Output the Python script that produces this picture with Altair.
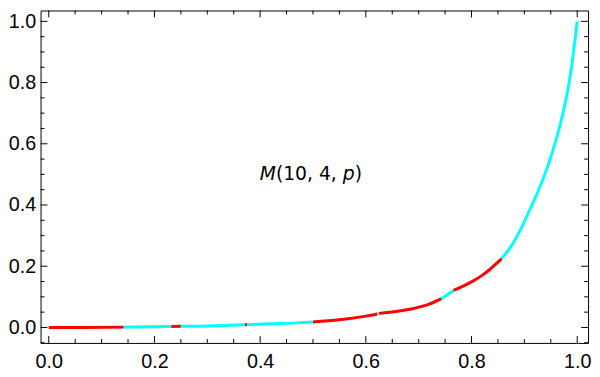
import altair as alt
import pandas as pd

# Curve samples
p_vals = [0, 0.07, 0.142, 0.19, 0.232, 0.25, 0.3, 0.34, 0.371, 0.375, 0.42, 0.469, 0.5,
          0.55, 0.6, 0.622, 0.625, 0.66, 0.69, 0.72, 0.743, 0.766, 0.8, 0.824, 0.857,
          0.876, 0.896, 0.91, 0.927, 0.952, 0.971, 0.986, 0.993, 1.0]
m_vals = [0, 0, 0.001, 0.002, 0.003, 0.004, 0.005, 0.007, 0.009, 0.009, 0.012, 0.015, 0.018,
          0.025, 0.037, 0.044, 0.046, 0.053, 0.062, 0.076, 0.094, 0.121, 0.149, 0.175, 0.225,
          0.268, 0.331, 0.384, 0.449, 0.567, 0.685, 0.814, 0.9, 1.0]

# Colour segments
bounds = [0, 0.142, 0.232, 0.25, 0.371, 0.375, 0.5, 0.622, 0.625, 0.743, 0.766, 0.857, 1.0]
seg_colors = ["#FF0000", "#00FFFF"] * 6

# Ticks
x_major = [0.0, 0.2, 0.4, 0.6, 0.8, 1.0]
x_minor = [0.05, 0.1, 0.15, 0.25, 0.3, 0.35, 0.45, 0.5, 0.55, 0.65, 0.7, 0.75, 0.85, 0.9, 0.95]
y_major = [0.0, 0.2, 0.4, 0.6, 0.8, 1.0]
y_minor = [-0.05, 0.05, 0.1, 0.15, 0.25, 0.3, 0.35, 0.45, 0.5, 0.55, 0.65, 0.7, 0.75,
           0.85, 0.9, 0.95]

label_x = [0.5]
label_y = [0.5]

X_DOM = [-0.0155, 1.0205]
Y_DOM = [-0.0506, 1.0354]
W, H = 555, 337
MAJ, MIN = 7, 4
FONT = "Liberation Sans"
TFONT = "DejaVu Sans"

rows = []
for i in range(len(bounds) - 1):
    a, b = bounds[i], bounds[i + 1]
    for p, v in zip(p_vals, m_vals):
        if a - 1e-9 <= p <= b + 1e-9:
            rows.append({"p": p, "m": v, "seg": i, "color": seg_colors[i]})
df = pd.DataFrame(rows)

xs = alt.Scale(domain=X_DOM, nice=False, zero=False)
ys = alt.Scale(domain=Y_DOM, nice=False, zero=False)
xaxis = alt.Axis(values=x_major, format=".1f", ticks=False, domain=False, grid=False,
                 labelFontSize=20, labelFont=FONT, labelColor="#000", labelPadding=9,
                 title=None)
yaxis = alt.Axis(values=y_major, format=".1f", ticks=False, domain=False, grid=False,
                 labelFontSize=20, labelFont=FONT, labelColor="#000", labelPadding=5,
                 title=None)

line = alt.Chart(df).mark_line(strokeWidth=3, interpolate="monotone").encode(
    x=alt.X("p:Q", scale=xs, axis=xaxis, title=None),
    y=alt.Y("m:Q", scale=ys, axis=yaxis, title=None),
    color=alt.Color("color:N", scale=None),
    detail="seg:N",
)

tick_style = dict(color="#000", strokeWidth=1)
bx = alt.X("t:Q", scale=xs, axis=xaxis, title=None)
by = alt.Y("t:Q", scale=ys, axis=yaxis, title=None)

xb_maj = alt.Chart(pd.DataFrame({"t": x_major})).mark_rule(**tick_style).encode(
    x=bx, y=alt.value(H), y2=alt.value(H - MAJ))
xb_min = alt.Chart(pd.DataFrame({"t": x_minor})).mark_rule(**tick_style).encode(
    x=bx, y=alt.value(H), y2=alt.value(H - MIN))
xt_maj = alt.Chart(pd.DataFrame({"t": x_major})).mark_rule(**tick_style).encode(
    x=bx, y=alt.value(0), y2=alt.value(MAJ))
xt_min = alt.Chart(pd.DataFrame({"t": x_minor})).mark_rule(**tick_style).encode(
    x=bx, y=alt.value(0), y2=alt.value(MIN))
yl_maj = alt.Chart(pd.DataFrame({"t": y_major})).mark_rule(**tick_style).encode(
    y=by, x=alt.value(0), x2=alt.value(MAJ))
yl_min = alt.Chart(pd.DataFrame({"t": y_minor})).mark_rule(**tick_style).encode(
    y=by, x=alt.value(0), x2=alt.value(MIN))
yr_maj = alt.Chart(pd.DataFrame({"t": y_major})).mark_rule(**tick_style).encode(
    y=by, x=alt.value(W), x2=alt.value(W - MAJ))
yr_min = alt.Chart(pd.DataFrame({"t": y_minor})).mark_rule(**tick_style).encode(
    y=by, x=alt.value(W), x2=alt.value(W - MIN))

ann = pd.DataFrame({"x": label_x, "y": label_y})
FS = 19
pieces = [("M", "italic", -54), ("(10, 4, ", "normal", -37.6), ("p", "italic", 30.2),
          (")", "normal", 42.3)]
texts = []
for txt, style, dx in pieces:
    texts.append(alt.Chart(ann).mark_text(text=txt, fontStyle=style, fontSize=FS, font=TFONT,
                                          align="left", baseline="middle", dx=dx,
                                          color="#000").encode(
        x=alt.X("x:Q", scale=xs, axis=xaxis, title=None),
        y=alt.Y("y:Q", scale=ys, axis=yaxis, title=None)))

chart = alt.layer(line, xb_maj, xb_min, xt_maj, xt_min, yl_maj, yl_min, yr_maj, yr_min,
                  *texts).properties(
    width=W, height=H,
    autosize=alt.AutoSizeParams(type="none"),
    padding={"left": 33, "top": 0, "right": 4, "bottom": 32},
).configure_view(stroke="#000", strokeWidth=1)

chart.save("out.html", embed_options={"renderer": "svg", "actions": False})
